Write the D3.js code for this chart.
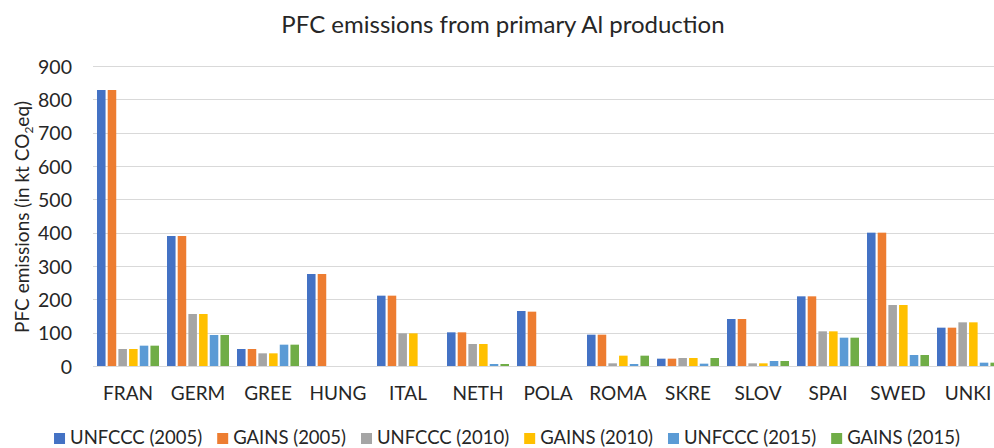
<!DOCTYPE html>
<html>
<head>
<meta charset="utf-8">
<script src="https://cdn.jsdelivr.net/npm/d3@7"></script>
<style>
  body { margin: 0; background: #fff; }
  svg { display: block; font-family: Lato, "Open Sans", sans-serif; }
</style>
</head>
<body>
<div class="chart"></div>
<script>
const countries = ["FRAN", "GERM", "GREE", "HUNG", "ITAL", "NETH", "POLA", "ROMA", "SKRE", "SLOV", "SPAI", "SWED", "UNKI"];
const seriesNames = ["UNFCCC (2005)", "GAINS (2005)", "UNFCCC (2010)", "GAINS (2010)", "UNFCCC (2015)", "GAINS (2015)"];
const unfccc2005 = [828, 390, 51, 276, 211, 101, 165, 94, 22, 141, 209, 400, 115];
const gains2005  = [828, 390, 51, 276, 211, 101, 163, 94, 22, 141, 209, 400, 115];
const unfccc2010 = [51, 156, 38, 0, 98, 66, 0, 8, 24, 8, 104, 183, 131];
const gains2010  = [51, 156, 38, 0, 98, 66, 0, 31, 24, 8, 104, 183, 131];
const unfccc2015 = [61, 93, 64, 0, 0, 6, 0, 6, 7, 15, 85, 33, 10];
const gains2015  = [61, 93, 64, 0, 0, 6, 0, 31, 24, 15, 85, 33, 10];
const yTicks = [0, 100, 200, 300, 400, 500, 600, 700, 800, 900];
const colors = ["#4472C4", "#ED7D31", "#A5A5A5", "#FFC000", "#5B9BD5", "#70AD47"];

const series = [unfccc2005, gains2005, unfccc2010, gains2010, unfccc2015, gains2015];

const W = 994, H = 448;
const margin = { top: 66, left: 93, bottom: 82 };
// the chart area runs a little past the right edge of the picture
const plotRight = 1003;
const plotBottom = H - margin.bottom;
const fs = 18.5;

const svg = d3.select(".chart").append("svg")
    .attr("width", W)
    .attr("height", H);

const y = d3.scaleLinear().domain([0, 900]).range([plotBottom, margin.top]);
const x0 = d3.scaleBand().domain(countries).range([margin.left, plotRight]);
const x1 = d3.scaleBand().domain(d3.range(series.length))
    .range([4, x0.bandwidth() - 4]).paddingInner(0.2);

// gridlines
svg.append("g")
    .selectAll("line")
    .data(yTicks)
    .join("line")
    .attr("x1", margin.left)
    .attr("x2", plotRight)
    .attr("y1", d => Math.round(y(d)) + 0.5)
    .attr("y2", d => Math.round(y(d)) + 0.5)
    .attr("stroke", "#d9d9d9")
    .attr("stroke-width", 1.2);

// y axis labels
const yAxis = svg.append("g")
    .attr("transform", `translate(${margin.left - 21},0)`)
    .call(d3.axisLeft(y).tickValues(yTicks).tickSize(0).tickPadding(0));
yAxis.select(".domain").remove();
yAxis.selectAll("text")
    .attr("font-family", "Lato, sans-serif")
    .attr("font-size", 19.5)
    .attr("fill", "#262626")
    .attr("dy", "0.36em");

// bars
const groups = svg.append("g")
    .selectAll("g")
    .data(countries)
    .join("g")
    .attr("transform", d => `translate(${x0(d)},0)`);

groups.selectAll("rect")
    .data((d, i) => series.map((s, k) => ({ k: k, v: s[i] })))
    .join("rect")
    .attr("x", d => x1(d.k))
    .attr("width", x1.bandwidth())
    .attr("y", d => y(d.v))
    .attr("height", d => plotBottom - y(d.v))
    .attr("fill", d => colors[d.k]);

// x axis labels
const xAxis = svg.append("g")
    .attr("transform", `translate(0,${plotBottom})`)
    .call(d3.axisBottom(x0).tickSize(0).tickPadding(0));
xAxis.select(".domain").remove();
xAxis.selectAll("text")
    .attr("font-family", "Lato, sans-serif")
    .attr("font-size", 19)
    .attr("fill", "#262626")
    .attr("dy", null)
    .attr("y", 34);

// title
svg.append("text")
    .attr("x", 503)
    .attr("y", 33)
    .attr("text-anchor", "middle")
    .attr("font-size", 24)
    .attr("fill", "#262626")
    .text("PFC emissions from primary Al production");

// y axis title
const yt = svg.append("text")
    .attr("transform", `translate(29,217) rotate(-90)`)
    .attr("text-anchor", "middle")
    .attr("font-size", 19)
    .attr("fill", "#262626");
yt.append("tspan").text("PFC emissions (in kt CO");
yt.append("tspan").attr("font-size", 12).attr("dy", 4).text("2");
yt.append("tspan").attr("dy", -4).text("eq)");

// legend
const legend = svg.append("g");
let lx = 0;
seriesNames.forEach((name, k) => {
    const item = legend.append("g").attr("transform", `translate(${lx},0)`);
    item.append("rect")
        .attr("x", 0).attr("y", -11)
        .attr("width", 11).attr("height", 11)
        .attr("fill", colors[k]);
    const t = item.append("text")
        .attr("x", 16)
        .attr("y", 0)
        .attr("font-size", fs)
        .attr("fill", "#262626")
        .text(name);
    lx += 16 + t.node().getComputedTextLength() + 15;
});
lx -= 15;
legend.attr("transform", `translate(${507 - lx / 2},${444})`);
</script>
</body>
</html>
